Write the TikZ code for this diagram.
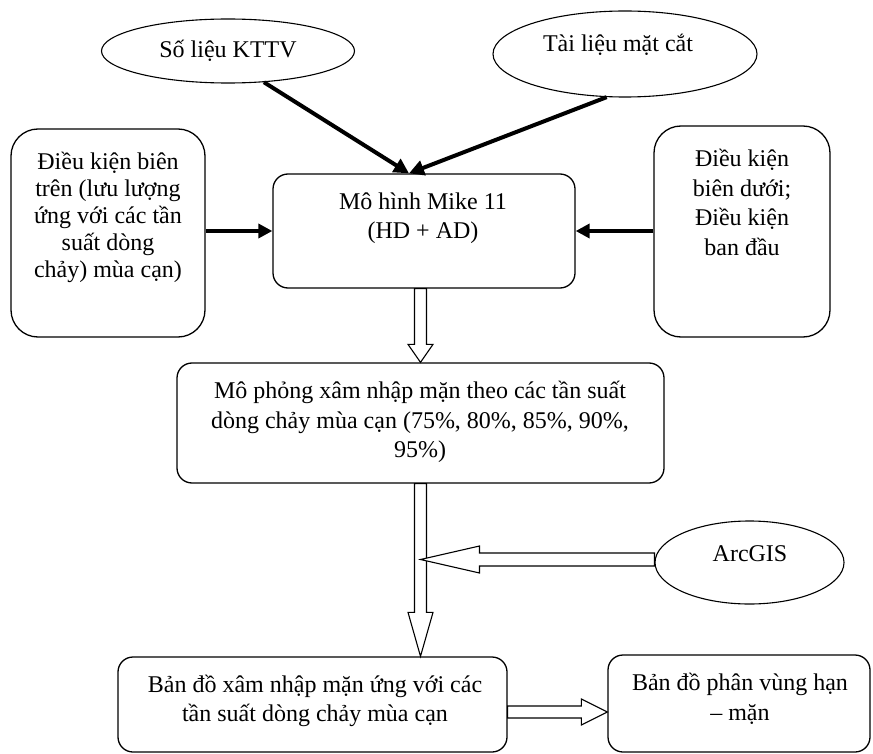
\documentclass[tikz,border=0pt]{standalone}
\usepackage{fontspec}
\setmainfont{Liberation Serif}
\usetikzlibrary{shapes.geometric,arrows.meta,calc}

\tikzset{
  txt/.style={align=center, font=\fontsize{24}{29.5}\selectfont, inner sep=0pt},
  txttight/.style={align=center, font=\fontsize{24}{27}\selectfont, inner sep=0pt},
  rbox/.style={draw, line width=1.3pt, rounded corners=#1, inner sep=0pt},
  oval/.style={draw, ellipse, line width=1.1pt, inner sep=0pt, align=center, font=\fontsize{24}{29.5}\selectfont},
  thickarrow/.style={line width=4pt, -{Triangle[length=15pt,width=15pt]}},
  blk/.style={draw, fill=white, line width=1.1pt, line join=miter},
}

% vertical block arrow: start, tip, shaft half width, head half width, head length
\newcommand\downblk[5]{\draw[blk] let \p1=(#1), \p2=(#2) in
  (\x2-#3,\y1) -- (\x2-#3,\y2+#5) -- (\x2-#4,\y2+#5) -- (\x2,\y2) --
  (\x2+#4,\y2+#5) -- (\x2+#3,\y2+#5) -- (\x2+#3,\y1) -- cycle;}
% leftward block arrow
\newcommand\leftblk[5]{\draw[blk] let \p1=(#1), \p2=(#2) in
  (\x1,\y2+#3) -- (\x2+#5,\y2+#3) -- (\x2+#5,\y2+#4) -- (\x2,\y2) --
  (\x2+#5,\y2-#4) -- (\x2+#5,\y2-#3) -- (\x1,\y2-#3) -- cycle;}
% rightward block arrow
\newcommand\rightblk[5]{\draw[blk] let \p1=(#1), \p2=(#2) in
  (\x1,\y2+#3) -- (\x2-#5,\y2+#3) -- (\x2-#5,\y2+#4) -- (\x2,\y2) --
  (\x2-#5,\y2-#4) -- (\x2-#5,\y2-#3) -- (\x1,\y2-#3) -- cycle;}

\begin{document}
\begin{tikzpicture}[x=1pt,y=-1pt]
\useasboundingbox (0,0) rectangle (873,754);

% ellipses
\node[oval, minimum width=253pt, minimum height=64pt] (E1) at (228,51) {Số liệu KTTV};
\node[oval, minimum width=264pt, minimum height=86pt] (E2) at (625,54) {};
\node[txt] (E2t) at (618,45) {Tài liệu mặt cắt};
\node[oval, minimum width=189pt, minimum height=83pt] (E3) at (749.5,562.5) {};
\node[txt] (E3t) at (750,554) {ArcGIS};

% boxes
\node[rbox=27pt, minimum width=194pt, minimum height=208pt] (L) at (108,233) {};
\node[txttight] (Lt) at (108,217) {Điều kiện biên\\trên (lưu lượng\\ứng với các tần\\suất dòng\\chảy) mùa cạn)};

\node[rbox=27pt, minimum width=176pt, minimum height=211pt] (R) at (742,231.5) {};
\node[txt] (Rt) at (742,202.5) {Điều kiện\\biên dưới;\\Điều kiện\\ban đầu};

\node[rbox=15pt, minimum width=302pt, minimum height=114pt] (C1) at (424,231) {};
\node[txt] (C1t) at (423,218) {Mô hình Mike 11\\(HD + AD)};

\node[rbox=15pt, minimum width=487pt, minimum height=120pt] (B2) at (420.5,423) {};
\node[txt] (B2t) at (420,422) {Mô phỏng xâm nhập mặn theo các tần suất\\dòng chảy mùa cạn (75\%, 80\%, 85\%, 90\%,\\95\%)};

\node[rbox=15pt, minimum width=389pt, minimum height=95pt] (B3) at (312.5,704.5) {};
\node[txt] (B3t) at (315,701) {Bản đồ xâm nhập mặn ứng với các\\tần suất dòng chảy mùa cạn};

\node[rbox=15pt, minimum width=262pt, minimum height=97pt] (B4) at (739,703.5) {};
\node[txt] (B4t) at (740,699) {Bản đồ phân vùng hạn\\– mặn};

% thick arrows
\coordinate (ctop) at ($(C1.north)+(-15,0)$);
\draw[thickarrow] (E1.-41) -- (ctop);
\draw[thickarrow] (E2.-113) -- (ctop);
\draw[line width=4pt, -{Triangle[length=14pt,width=14pt]}] (C1.west -| L.east) -- (C1.west);
\draw[line width=4pt, -{Triangle[length=14pt,width=14pt]}] (C1.east -| R.west) -- (C1.east);

% block arrows
\downblk{C1.south -| B2.north}{B2.north}{6pt}{12.5pt}{18pt}
\downblk{B2.south}{B3.north -| B2.south}{6pt}{12.5pt}{44pt}
\coordinate (arctip) at ($(E3.west -| B2.south)+(0,-3)$);
\leftblk{E3.west}{arctip}{6.5pt}{13.5pt}{59pt}
\coordinate (btip) at ($(B4.west)+(0,8.5)$);
\rightblk{B3.east}{btip}{6pt}{13pt}{26pt}
\end{tikzpicture}
\end{document}
